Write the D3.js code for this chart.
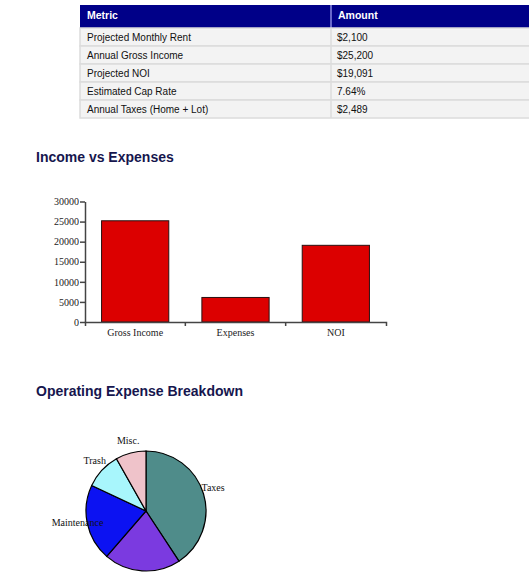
<!DOCTYPE html>
<html>
  <head>
    <meta charset="utf-8">
    <script src="https://d3js.org/d3.v7.min.js"></script>
    <style>
      body { margin: 0; background: #fff; }
    </style>
  </head>
  <body>
    <script type="text/javascript">

    // summary table
    var tableHeaders = ["Metric", "Amount"];
    var tableMetrics = ["Projected Monthly Rent", "Annual Gross Income", "Projected NOI", "Estimated Cap Rate", "Annual Taxes (Home + Lot)"];
    var tableAmounts = ["$2,100", "$25,200", "$19,091", "7.64%", "$2,489"];

    // income vs expenses bars
    var barCategories = ["Gross Income", "Expenses", "NOI"];
    var barValues = [25200, 6109, 19091];
    var barTicks = [0, 5000, 10000, 15000, 20000, 25000, 30000];

    // expense breakdown pie
    var pieLabels = ["Taxes", "Insurance", "Maintenance", "Trash", "Misc."];
    var pieValues = [2489, 1260, 1260, 600, 500];
    var pieColors = ["#4f8c8a", "#7b3ae0", "#0c12f2", "#a8f6fc", "#efc3ca"];

    var W = 529, H = 576;

    var svg = d3.select("body").append("svg")
        .attr("width", W)
        .attr("height", H);

    var sans = "'Liberation Sans', Arial, sans-serif";
    var serif = "'Liberation Serif', 'Times New Roman', serif";

    drawTable();
    drawBars();
    drawPie();

    function drawTable(){
        var left = 80, colSplit = 331, right = 545;
        var headTop = 5, headH = 23, rowH = 18;

        var t = svg.append("g");

        t.append("rect")
            .attr("x", left).attr("y", headTop)
            .attr("width", right - left).attr("height", headH)
            .attr("fill", "#000088");
        t.append("line")
            .attr("x1", colSplit).attr("x2", colSplit)
            .attr("y1", headTop).attr("y2", headTop + headH)
            .attr("stroke", "#8a8ae0").attr("stroke-width", 1.5);

        t.selectAll(".head")
            .data(tableHeaders)
            .enter().append("text")
            .attr("x", function (d, i) { return (i == 0 ? left : colSplit) + 7; })
            .attr("y", headTop + headH / 2 - 1)
            .attr("dy", "0.35em")
            .style("font-family", sans)
            .style("font-size", "10.5px")
            .style("font-weight", "bold")
            .attr("fill", "#fff")
            .text(function (d) { return d; });

        var rows = t.selectAll(".row")
            .data(tableMetrics)
            .enter().append("g")
            .attr("transform", function (d, i) { return "translate(0," + (headTop + headH + i * rowH) + ")"; });

        rows.append("rect")
            .attr("x", left).attr("y", 0)
            .attr("width", right - left).attr("height", rowH)
            .attr("fill", "#f3f3f3")
            .attr("stroke", "#dcdcdc")
            .attr("stroke-width", 1.5);
        rows.append("line")
            .attr("x1", colSplit).attr("x2", colSplit)
            .attr("y1", 0).attr("y2", rowH)
            .attr("stroke", "#dcdcdc").attr("stroke-width", 1.5);

        rows.append("text")
            .attr("x", left + 7)
            .attr("y", rowH / 2)
            .attr("dy", "0.35em")
            .style("font-family", sans)
            .style("font-size", "10px")
            .attr("fill", "#111")
            .text(function (d) { return d; });

        rows.append("text")
            .attr("x", colSplit + 6)
            .attr("y", rowH / 2)
            .attr("dy", "0.35em")
            .style("font-family", sans)
            .style("font-size", "10px")
            .attr("fill", "#111")
            .text(function (d, i) { return tableAmounts[i]; });
    }

    function sectionTitle(txt, x, y){
        svg.append("text")
            .attr("x", x).attr("y", y)
            .attr("dy", "0.35em")
            .style("font-family", sans)
            .style("font-size", "14px")
            .style("font-weight", "bold")
            .attr("fill", "#16164e")
            .text(txt);
    }

    function drawBars(){
        sectionTitle("Income vs Expenses", 36, 157);

        var x = d3.scaleBand()
            .domain(barCategories)
            .range([85, 386])
            .paddingInner(0.33)
            .paddingOuter(0.165);

        var y = d3.scaleLinear()
            .domain([0, 30000])
            .range([322, 201.5]);

        var g = svg.append("g");

        g.selectAll(".bar")
            .data(barValues)
            .enter().append("rect")
            .attr("x", function (d, i) { return x(barCategories[i]); })
            .attr("y", function (d) { return y(d); })
            .attr("width", x.bandwidth())
            .attr("height", function (d) { return y(0) - y(d); })
            .attr("fill", "#dc0000")
            .attr("stroke", "#2a1010")
            .attr("stroke-width", 1);

        // y axis
        var yAxis = g.append("g")
            .attr("transform", "translate(85,0)")
            .call(d3.axisLeft(y).tickValues(barTicks).tickSize(5).tickSizeOuter(0).tickFormat(d3.format("d")));
        yAxis.selectAll("text")
            .style("font-family", serif)
            .style("font-size", "10px")
            .attr("x", -6)
            .attr("fill", "#222");

        // x axis, ticks at band edges
        var xAxis = g.append("g")
            .attr("transform", "translate(0,322)")
            .call(d3.axisBottom(x).tickSizeInner(0).tickSizeOuter(4).tickPadding(7));
        xAxis.selectAll("text")
            .style("font-family", serif)
            .style("font-size", "10px")
            .attr("fill", "#222");

        var edges = barCategories.slice(1).map(function (c) { return x(c) - x.step() * x.paddingInner() / 2; });
        xAxis.selectAll(".edge")
            .data(edges)
            .enter().append("line")
            .attr("x1", function (d) { return d; })
            .attr("x2", function (d) { return d; })
            .attr("y1", 0).attr("y2", 4)
            .attr("stroke", "#444").attr("stroke-width", 1.5);

        g.selectAll(".domain, .tick line")
            .attr("stroke", "#444")
            .attr("stroke-width", 1.5);
    }

    function drawPie(){
        sectionTitle("Operating Expense Breakdown", 36, 391);

        var cx = 146, cy = 511, r = 60;

        var pie = d3.pie().sort(null);
        var arc = d3.arc().innerRadius(0).outerRadius(r);
        var labelArc = d3.arc().innerRadius(70).outerRadius(70);

        var g = svg.append("g")
            .attr("transform", "translate(" + cx + "," + cy + ")");

        var slices = pie(pieValues);

        g.selectAll(".slice")
            .data(slices)
            .enter().append("path")
            .attr("d", arc)
            .attr("fill", function (d, i) { return pieColors[i]; })
            .attr("stroke", "#000")
            .attr("stroke-width", 1.2);

        // labels whose anchor lands below the page fold are not drawn (the view is cut there)
        var visible = slices.filter(function (d) { return cy + labelArc.centroid(d)[1] < H; });

        g.selectAll(".label")
            .data(visible)
            .enter().append("text")
            .attr("transform", function (d) { return "translate(" + labelArc.centroid(d) + ")"; })
            .attr("text-anchor", "middle")
            .attr("dy", "0.05em")
            .style("font-family", serif)
            .style("font-size", "10px")
            .attr("fill", "#111")
            .text(function (d) { return pieLabels[d.index]; });
    }

    </script>
  </body>
</html>
